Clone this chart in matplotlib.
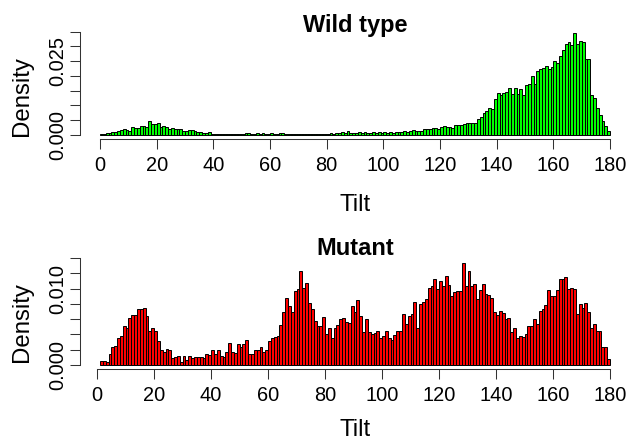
import numpy as np
import matplotlib.pyplot as plt

plt.rcParams['font.family'] = ['Liberation Sans', 'DejaVu Sans']

# one-degree bins: wild type 0..180, mutant 1..180
wild_edges = np.arange(0, 181)
mutant_edges = np.arange(1, 181)

wild = [
    0.0003, 0.0003, 0.0005, 0.0007, 0.0008, 0.0010, 0.0012, 0.0016, 0.0019, 0.0016,
    0.0014, 0.0025, 0.0022, 0.0022, 0.0030, 0.0030, 0.0025, 0.0046, 0.0035, 0.0035,
    0.0039, 0.0025, 0.0030, 0.0027, 0.0018, 0.0022, 0.0019, 0.0018, 0.0019, 0.0012,
    0.0012, 0.0016, 0.0015, 0.0014, 0.0010, 0.0008, 0.0007, 0.0005, 0.0008, 0.0003,
    0.0003, 0.0002, 0.0003, 0.0002, 0.0001, 0.0002, 0.0001, 0.0002, 0.0001, 0.0002,
    0.0003, 0.0005, 0.0006, 0.0004, 0.0003, 0.0005, 0.0003, 0.0006, 0.0004, 0.0003,
    0.0005, 0.0004, 0.0003, 0.0005, 0.0006, 0.0003, 0.0004, 0.0002, 0.0004, 0.0001,
    0.0002, 0.0001, 0.0002, 0.0003, 0.0002, 0.0003, 0.0002, 0.0004, 0.0003, 0.0004,
    0.0003, 0.0005, 0.0004, 0.0006, 0.0005, 0.0008, 0.0006, 0.0011, 0.0005, 0.0007,
    0.0006, 0.0008, 0.0005, 0.0009, 0.0007, 0.0006, 0.0009, 0.0007, 0.0008, 0.0006,
    0.0009, 0.0007, 0.0008, 0.0006, 0.0009, 0.0010, 0.0008, 0.0012, 0.0010, 0.0014,
    0.0016, 0.0011, 0.0012, 0.0011, 0.0019, 0.0020, 0.0018, 0.0022, 0.0023, 0.0021,
    0.0025, 0.0030, 0.0026, 0.0027, 0.0022, 0.0033, 0.0034, 0.0033, 0.0035, 0.0040,
    0.0040, 0.0041, 0.0040, 0.0055, 0.0060, 0.0075, 0.0080, 0.0090, 0.0086, 0.0120,
    0.0143, 0.0135, 0.0143, 0.0146, 0.0160, 0.0140, 0.0160, 0.0140, 0.0154, 0.0135,
    0.0170, 0.0174, 0.0200, 0.0174, 0.0216, 0.0222, 0.0228, 0.0234, 0.0223, 0.0230,
    0.0250, 0.0245, 0.0268, 0.0288, 0.0307, 0.0315, 0.0305, 0.0347, 0.0308, 0.0318,
    0.0316, 0.0258, 0.0256, 0.0134, 0.0124, 0.0090, 0.0067, 0.0045, 0.0028, 0.0013,
]

mutant = [
    0.0005, 0.0005, 0.00035, 0.0015, 0.0023, 0.0025, 0.0036, 0.0038, 0.0051, 0.0049,
    0.0062, 0.0066, 0.0066, 0.0074, 0.0073, 0.0075, 0.0064, 0.0044, 0.0049, 0.0044,
    0.0032, 0.0020, 0.0017, 0.0021, 0.0020, 0.0009, 0.0011, 0.0012, 0.0004, 0.0012,
    0.0007, 0.0012, 0.0009, 0.0010, 0.0010, 0.0011, 0.0009, 0.0014, 0.0013, 0.0020,
    0.0014, 0.0020, 0.0012, 0.0010, 0.0017, 0.0029, 0.0017, 0.0016, 0.0028, 0.0023,
    0.0027, 0.0033, 0.0014, 0.0014, 0.0020, 0.0020, 0.0023, 0.0017, 0.0020, 0.0032,
    0.0036, 0.0037, 0.0038, 0.0052, 0.0070, 0.0088, 0.0077, 0.0070, 0.0097, 0.0100,
    0.0123, 0.0101, 0.0108, 0.0081, 0.0073, 0.0058, 0.0051, 0.0051, 0.0063, 0.0041,
    0.0048, 0.0036, 0.0049, 0.0052, 0.0060, 0.0061, 0.0057, 0.0055, 0.0077, 0.0070,
    0.0085, 0.0064, 0.0043, 0.0060, 0.0043, 0.0040, 0.0042, 0.0044, 0.0035, 0.0038,
    0.0045, 0.0035, 0.0033, 0.0039, 0.0044, 0.0044, 0.0067, 0.0054, 0.0064, 0.0067,
    0.0083, 0.0048, 0.0080, 0.0083, 0.0086, 0.0101, 0.0103, 0.0113, 0.0100, 0.0110,
    0.0103, 0.0117, 0.0105, 0.0090, 0.0096, 0.0097, 0.0097, 0.0134, 0.0103, 0.0123,
    0.0103, 0.0106, 0.0086, 0.0098, 0.0106, 0.0093, 0.0092, 0.0088, 0.0070, 0.0066,
    0.0071, 0.0068, 0.0060, 0.0061, 0.0043, 0.0049, 0.0036, 0.0038, 0.0037, 0.0040,
    0.0051, 0.0051, 0.0060, 0.0054, 0.0071, 0.0073, 0.0079, 0.0098, 0.0090, 0.0090,
    0.0098, 0.0113, 0.0113, 0.0115, 0.0100, 0.0101, 0.0100, 0.0067, 0.0080, 0.0075,
    0.0081, 0.0070, 0.0048, 0.0054, 0.0044, 0.0044, 0.0023, 0.0023, 0.0008,
]

W, H = 630, 441
# plot regions in pixels: left, top, width, height
panels = [
    dict(title="Wild type", edges=wild_edges, data=wild, color="#00ff00",
         yticks=np.arange(0, 0.0351, 0.005), ylabeled=["0.000", "0.025"],
         rect=[79.6, 28.5, 550.8, 110.3], title_y=31.7, xlab_y=211.3, ylab_y=96.5),
    dict(title="Mutant", edges=mutant_edges, data=mutant, color="#ff0000",
         yticks=np.arange(0, 0.0141, 0.002), ylabeled=["0.000", "0.010"],
         rect=[79.6, 258.2, 550.8, 110.9], title_y=255.0, xlab_y=436.5, ylab_y=322.5),
]

fig = plt.figure(figsize=(W / 100, H / 100), dpi=100)

for p in panels:
    x0, y0, w, h = p["rect"]
    ax = fig.add_axes([x0 / W, 1 - (y0 + h) / H, w / W, h / H])
    e = p["edges"]
    vals = np.array(p["data"])
    ax.bar(e[:-1], vals, width=np.diff(e), align="edge",
           color=p["color"], edgecolor="black", linewidth=0.7)
    pad_x = 0.04 * (e[-1] - e[0])
    ax.set_xlim(e[0] - pad_x, e[-1] + pad_x)
    top = vals.max()
    ax.set_ylim(-0.04 * top, 1.04 * top)

    for s in ("top", "right"):
        ax.spines[s].set_visible(False)
    ax.spines["left"].set_bounds(p["yticks"][0], p["yticks"][-1])
    ax.spines["bottom"].set_bounds(0, 180)
    for s in ("left", "bottom"):
        ax.spines[s].set_linewidth(0.75)
        ax.spines[s].set_color("#333333")

    ax.set_xticks(np.arange(0, 181, 20))
    ax.set_yticks(p["yticks"])
    labels = [("%.3f" % t) for t in p["yticks"]]
    ax.set_yticklabels([l if l in p["ylabeled"] else "" for l in labels],
                       rotation=90, va="center")
    ax.tick_params(axis="both", direction="out", length=7.2, width=0.75,
                   color="#333333", labelsize=14.4)
    ax.tick_params(axis="x", pad=5)
    ax.tick_params(axis="y", pad=2)

    ax.set_ylabel("Density", fontsize=17.3)
    ax.yaxis.set_label_coords(-0.0846, (y0 + h - p["ylab_y"]) / h)
    ax.set_xlabel("Tilt", fontsize=17.3, va="baseline")
    ax.xaxis.set_label_coords(0.5, (y0 + h - p["xlab_y"]) / h)
    ax.text(0.5, (y0 + h - p["title_y"]) / h, p["title"], transform=ax.transAxes,
            ha="center", va="baseline", fontsize=17, fontweight="bold")

fig.savefig("out.png", dpi=100)
